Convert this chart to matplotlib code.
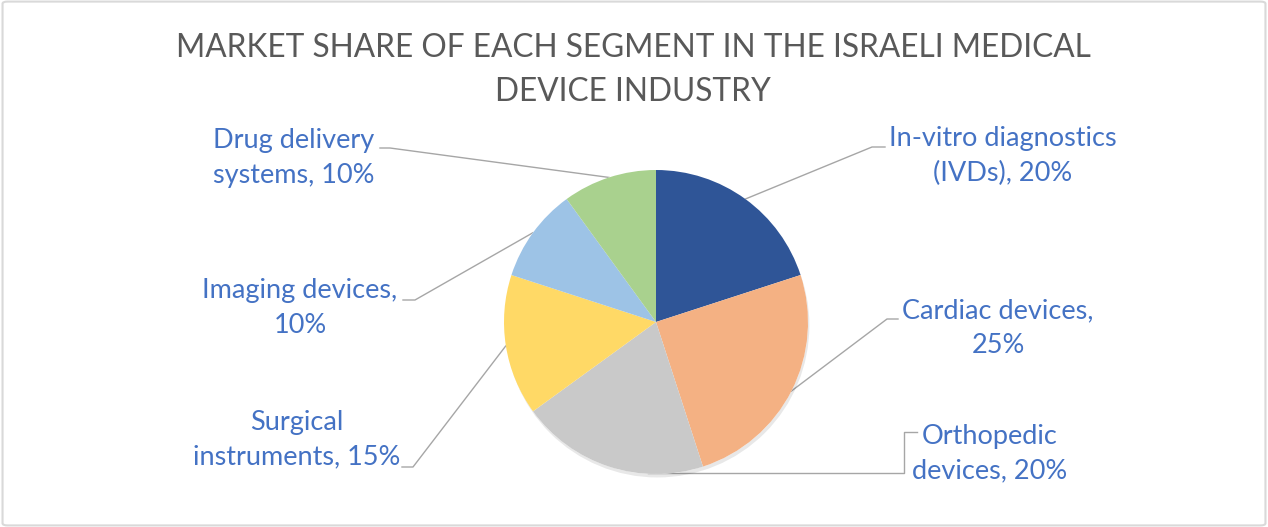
import numpy as np
import matplotlib.pyplot as plt
from matplotlib import patheffects as pe
from matplotlib.patches import FancyBboxPatch, Circle

segments = ["In-vitro diagnostics (IVDs)", "Cardiac devices", "Orthopedic devices",
            "Surgical instruments", "Imaging devices", "Drug delivery systems"]
shares = [20, 25, 20, 15, 10, 10]
labels = ["In-vitro diagnostics\n(IVDs), 20%", "Cardiac devices,\n25%", "Orthopedic\ndevices, 20%",
          "Surgical\ninstruments, 15%", "Imaging devices,\n10%", "Drug delivery\nsystems, 10%"]
colors = ["#2F5597", "#F4B183", "#C9C9C9", "#FFD966", "#9DC3E6", "#A9D18E"]

W, H = 1268, 527
cx, cy, R = 656, 322, 152   # pie centre / radius in pixels


def to_data(px, py):
    return (px - cx) / R, (cy - py) / R


fig = plt.figure(figsize=(W / 100, H / 100), dpi=100)
ax = fig.add_axes([0, 0, 1, 1])
wedges, _ = ax.pie(shares, colors=colors, startangle=90, counterclock=False,
                   radius=1, wedgeprops=dict(linewidth=0, zorder=2))
# soft shadow under the whole pie
shadow = Circle((0, 0), 1, facecolor="white", edgecolor="none", zorder=1)
shadow.set_path_effects([pe.SimplePatchShadow(offset=(1, -2.5), shadow_rgbFace="k", alpha=0.09),
                         pe.Normal()])
ax.add_patch(shadow)
ax.set_xlim(-cx / R, (W - cx) / R)
ax.set_ylim(-(H - cy) / R, cy / R)
ax.set_aspect("equal", adjustable="box")
ax.axis("off")

# label centre, text-side end of leader, elbow point(s) -- pixel layout
text_pos = [(1003, 156), (998, 328), (990, 454), (297, 440), (300, 308), (294, 158)]
leader_pts = [
    [(885, 147), (872, 147)],
    [(898, 319), (887, 319)],
    [(917, 432), (904, 432), (904, 473)],
    [(402, 467), (413, 467)],
    [(403, 300), (415, 300)],
    [(380, 148), (390, 148)],
]
anchor_shift = [0, 0, 15, 0, 0, 0]

for w, lab, tp, pts, sh in zip(wedges, labels, text_pos, leader_pts, anchor_shift):
    mid = np.deg2rad((w.theta1 + w.theta2) / 2 + sh)
    ex, ey = np.cos(mid), np.sin(mid)
    xs = [to_data(*p)[0] for p in pts]
    ys = [to_data(*p)[1] for p in pts]
    if sh:
        ey = ys[-1]
    xs.append(ex)
    ys.append(ey)
    ax.plot(xs, ys, color="#A6A6A6", lw=1.0, zorder=0)
    tx, ty = to_data(*tp)
    ax.text(tx, ty, lab, ha="center", va="center", fontsize=19.5, color="#4472C4",
            family="Lato", linespacing=1.48)

fig.text(633 / W, 1 - 70 / H, "MARKET SHARE OF EACH SEGMENT IN THE ISRAELI MEDICAL\nDEVICE INDUSTRY",
         ha="center", va="center", fontsize=22.8, color="#595959",
         family="Lato", linespacing=1.58)

fig.patches.append(FancyBboxPatch((0.002, 0.003), 0.996, 0.994, boxstyle="round,pad=0,rounding_size=0.004",
                                  transform=fig.transFigure, fill=False, edgecolor="#D9D9D9", lw=1.5))

fig.savefig("out.png", dpi=100)
